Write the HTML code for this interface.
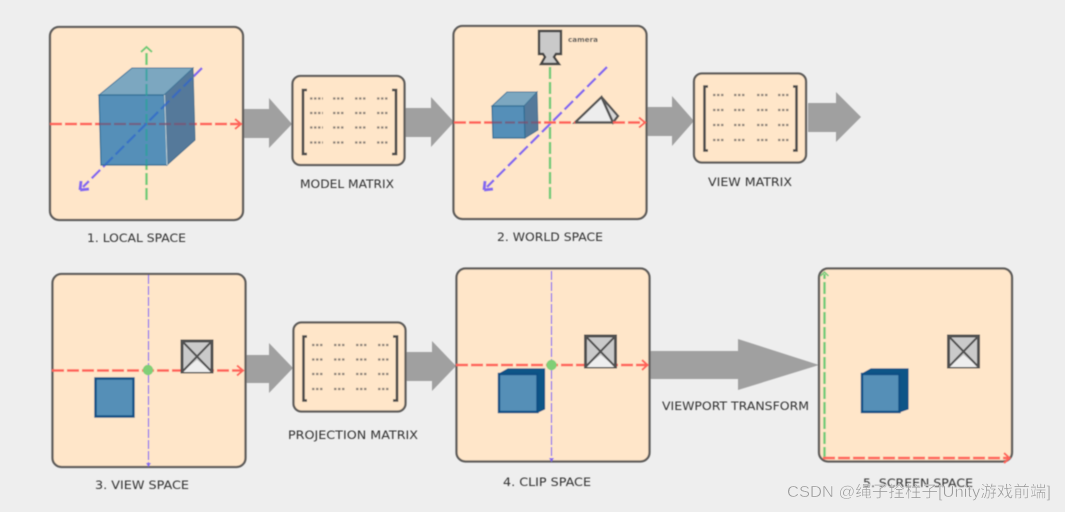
<!DOCTYPE html>
<html><head><meta charset="utf-8"><style>
html,body{margin:0;padding:0;background:#eee;width:1065px;height:512px;overflow:hidden}
svg{display:block}
.b{fill:#ffe6c9;stroke:#5f5d5b;stroke-width:2.300}
.a{fill:#a0a0a0}
.l{font-family:"DejaVu Sans",sans-serif;font-size:11.5px;fill:#333}
.r{stroke:#ff6258;stroke-width:2.500;stroke-dasharray:12 3;fill:none}
.g{stroke:#6fcb78;stroke-width:2.400;stroke-dasharray:12 3;fill:none}
.p{stroke:#8468ee;stroke-width:2.400;stroke-dasharray:12 4;fill:none}
.t{stroke:#8468ee;stroke-width:1.200;stroke-dasharray:9 2;fill:none}
.br{fill:none;stroke:#4a4a4a;stroke-width:2.600}
.d{stroke:#8f857b;stroke-width:2.200;stroke-dasharray:2.500 1.500;fill:none}
.cf{fill:#548fb8;stroke:#2f6d94;stroke-width:1.200}
.sf{fill:#558fb7;stroke:#0a5085;stroke-width:2.400}
.ss{fill:#0f5587;stroke:#0a5085;stroke-width:1.200}
</style></head><body>
<svg width="1065" height="512" viewBox="0 0 1065 512" xmlns="http://www.w3.org/2000/svg">
<defs>
<filter id="s" x="-2%" y="-2%" width="104%" height="104%"><feGaussianBlur stdDeviation="0.4"/></filter>
<g id="px"><rect x="0" y="0" width="30" height="31" fill="#cacaca" stroke="#505050" stroke-width="3"/><path d="M0 31L15 19L30 31Z" fill="#eee"/><path d="M0 0L30 31M30 0L0 31" stroke="#505050" stroke-width="2"/></g>
</defs>
<rect width="1065" height="512" fill="#eee"/>
<g filter="url(#s)">
<!-- arrows -->
<path class="a" d="M243 109H269V98L292 124L269 148V138H243Z"/>
<path class="a" d="M405 108H431V97L454 122L431 147V137H405Z"/>
<path class="a" d="M647 107H672V96L694 121L672 146V136H647Z"/>
<path class="a" d="M808 103H836V92L861 117L836 142V132H808Z"/>
<path class="a" d="M246 355H269V343L293 368L269 393V383H246Z"/>
<path class="a" d="M406 352H432V341L456 366L432 391V381H406Z"/>
<path class="a" d="M650 351H738V339L819 365L738 390V379H650Z"/>
<!-- boxes -->
<rect class="b" x="50" y="27" width="193" height="193" rx="9"/>
<rect class="b" x="453.500" y="26" width="193" height="193" rx="9"/>
<rect class="b" x="52.500" y="274" width="193" height="193" rx="9"/>
<rect class="b" x="456.500" y="268.500" width="193" height="193" rx="9"/>
<rect class="b" x="819" y="268.500" width="193" height="193" rx="9"/>
<rect class="b" x="292.500" y="76" width="112" height="89" rx="8"/>
<rect class="b" x="694" y="73.500" width="112" height="89" rx="8"/>
<rect class="b" x="293.500" y="322.500" width="112" height="89" rx="8"/>
<!-- matrix 1 -->
<path class="br" d="M307 90H303V154H307M392 90H396V154H392"/>
<path class="d" d="M310 98.500h13M333 98.500h11M355 98.500h12M377 98.500h11M310 113h13M333 113h11M355 113h12M377 113h11M310 127.500h13M333 127.500h11M355 127.500h12M377 127.500h11M310 142.500h13M333 142.500h11M355 142.500h12M377 142.500h11"/>
<!-- matrix 2 -->
<path class="br" d="M708 86.500H704.500V150.500H708M793 86.500H796.500V150.500H793"/>
<path class="d" d="M713 95h12M734 95h11M757 95h11M778 95h11M713 110h12M734 110h11M757 110h11M778 110h11M713 125h12M734 125h11M757 125h11M778 125h11M713 140h12M734 140h11M757 140h11M778 140h11"/>
<!-- matrix 3 -->
<path class="br" d="M307 336.500H303.500V400.500H307M393 336.500H397V400.500H393"/>
<path class="d" d="M312 345h12M334 345h11M356 345h11M378 345h11M312 359.500h12M334 359.500h11M356 359.500h11M378 359.500h11M312 374h12M334 374h11M356 374h11M378 374h11M312 389h12M334 389h11M356 389h11M378 389h11"/>
<!-- local space -->
<path class="r" d="M50 124H240"/><path d="M235 119l6 5l-6 5" fill="none" stroke="#ff6258" stroke-width="2"/>
<path class="p" d="M202 68L83 187"/><path d="M80 190l9-1M80 190l1-9" stroke="#8468ee" stroke-width="3"/>
<path class="g" d="M146.500 200V50"/><path d="M141 52l5.500-5l5.500 5" fill="none" stroke="#6fcb78" stroke-width="2"/>
<g>
<path d="M164 95L193 68L195 140L167 165Z" fill="#55799a" stroke="#44708f"/>
<path d="M99 95L132 68H193L164 95Z" fill="#7ba7c0" stroke="#44789b"/>
<path class="cf" d="M99 95H164L167 165H101Z"/>
<path d="M164.500 95L167 165" stroke="#c3d3d8" stroke-width="1"/>
</g>
<g opacity=".7">
<path d="M99 124H195" stroke="#7d4f6e" stroke-width="2.200" stroke-dasharray="12 3"/>
<path d="M146.500 69V165" stroke="#2aa39b" stroke-width="2.200" stroke-dasharray="12 3"/>
<path d="M192 78L105 165" stroke="#2f66cc" stroke-width="2.200" stroke-dasharray="12 4"/>
</g>
<!-- world space -->
<path class="g" d="M550 199V64"/>
<path class="p" d="M607 67L487 187"/><path d="M484 190l9-1M484 190l1-9" stroke="#8468ee" stroke-width="3"/>
<path d="M575 122.500L601.500 97L613 122.500Z" fill="#ededed" stroke="#555" stroke-width="2.400"/>
<path d="M601.500 97L618 116L613 122.500Z" fill="#d8d8d8" stroke="#555" stroke-width="2.400"/>
<path class="r" d="M454 122.500H575M613 122.500H644"/><path d="M639 117.500l6 5l-6 5" fill="none" stroke="#ff6258" stroke-width="2"/>
<path d="M524 106L537 92L538 130L525 138Z" fill="#55799a" stroke="#44708f"/>
<path d="M492 106L507 92H537L524 106Z" fill="#7ba7c0" stroke="#44789b"/>
<path class="cf" d="M492 106H524L525 138H493Z"/>
<path d="M492 122.500H538" stroke="#7d4f6e" stroke-width="2.200" stroke-dasharray="10 3" opacity=".7"/>
<path d="M539 31H561V54H556L554 57L559 64H541L545 57L543 54H539Z" fill="#c9c9c9" stroke="#444" stroke-width="2.400"/>
<text x="568" y="42" font-family="DejaVu Sans,sans-serif" font-size="7" font-weight="bold" fill="#555" textLength="30" lengthAdjust="spacingAndGlyphs">camera</text>
<!-- view space -->
<path class="t" d="M148.500 275V464"/><path d="M146 463l2.500 4l2.500-4z" fill="#8468ee"/>
<path class="r" d="M52 370.500H242"/><path d="M237 365.500l6 5l-6 5" fill="none" stroke="#ff6258" stroke-width="2"/>
<circle cx="148" cy="370" r="5.200" fill="#80cf76"/>
<rect class="sf" x="95.500" y="378.500" width="38" height="38"/>
<use href="#px" transform="translate(182,341)"/>
<!-- clip space -->
<path class="t" d="M551.500 271V459"/><path d="M549 458l2.500 4l2.500-4z" fill="#8468ee"/>
<path class="r" d="M456 365H647"/><path d="M642 360l5.500 5l-5.500 5" fill="none" stroke="#ff6258" stroke-width="2"/>
<circle cx="551.500" cy="365" r="5.200" fill="#80cf76"/>
<path class="ss" d="M499 374L508 369H544.500V409L538 412Z"/>
<rect class="sf" x="499" y="374" width="38.500" height="38"/>
<use href="#px" transform="translate(585.500,336)"/>
<!-- screen space -->
<path class="g" d="M824.500 459V274"/><path d="M820.500 276l4-4l4 4" fill="none" stroke="#6fcb78" stroke-width="1.500"/>
<path class="r" d="M823 458H1008" stroke-dasharray="9 3"/><path d="M1004 453l5.500 5l-5.500 5" fill="none" stroke="#ff6258" stroke-width="2"/>
<path class="ss" d="M862 374L871 369H908V409L899 412Z"/>
<rect class="sf" x="862" y="374" width="37.500" height="38"/>
<use href="#px" transform="translate(948.500,336)"/>
<!-- labels -->
<text class="l" x="87" y="242" textLength="99" lengthAdjust="spacingAndGlyphs">1. LOCAL SPACE</text>
<text class="l" x="300" y="188" textLength="94" lengthAdjust="spacingAndGlyphs">MODEL MATRIX</text>
<text class="l" x="497" y="241" textLength="106" lengthAdjust="spacingAndGlyphs">2. WORLD SPACE</text>
<text class="l" x="708" y="186" textLength="84" lengthAdjust="spacingAndGlyphs">VIEW MATRIX</text>
<text class="l" x="95" y="489" textLength="94" lengthAdjust="spacingAndGlyphs">3. VIEW SPACE</text>
<text class="l" x="288" y="439" textLength="130" lengthAdjust="spacingAndGlyphs">PROJECTION MATRIX</text>
<text class="l" x="503" y="486" textLength="88" lengthAdjust="spacingAndGlyphs">4. CLIP SPACE</text>
<text class="l" x="662" y="410" textLength="147" lengthAdjust="spacingAndGlyphs">VIEWPORT TRANSFORM</text>
<text class="l" x="863" y="487" textLength="110" lengthAdjust="spacingAndGlyphs">5. SCREEN SPACE</text>
</g>
<text x="787" y="497" font-family="'Liberation Sans','Noto Sans CJK SC',sans-serif" font-size="16" fill="#9a9a9a" stroke="#fff" stroke-width=".3" textLength="264" lengthAdjust="spacingAndGlyphs">CSDN @绳子拴柱子[Unity游戏前端]</text>
</svg>
</body></html>
